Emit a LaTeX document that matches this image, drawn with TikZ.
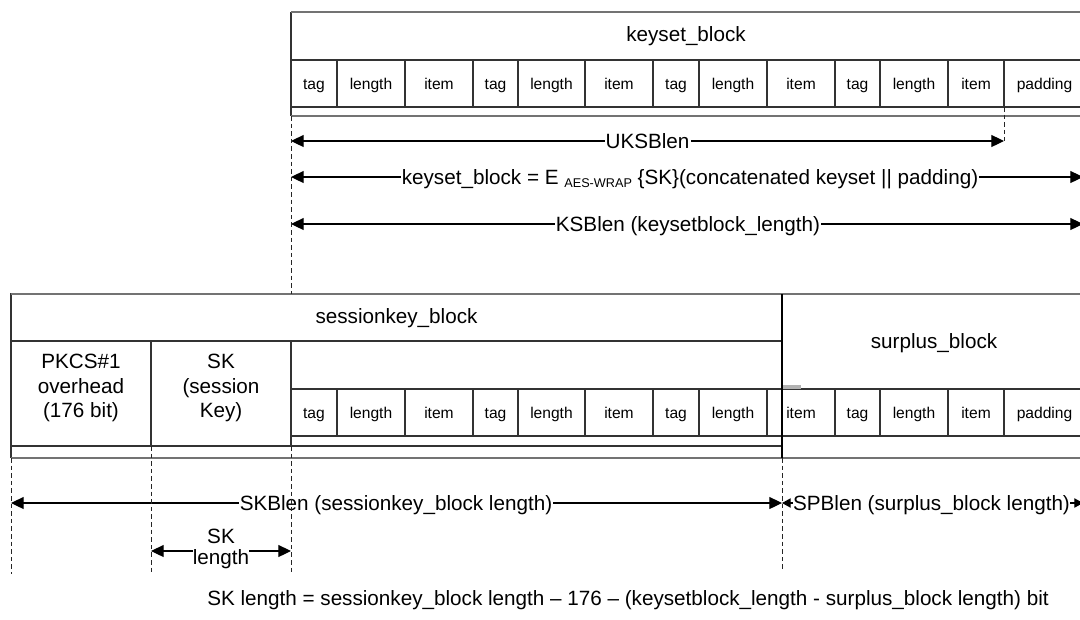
\documentclass[tikz,border=0pt]{standalone}
\usepackage{fontspec}
\setmainfont{Liberation Sans}
\usetikzlibrary{arrows.meta}
\begin{document}
\begin{tikzpicture}[x=0.75pt,y=-0.75pt,
  bigtxt/.style={font=\fontsize{15.5}{18.4}\selectfont},
  celltxt/.style={font=\fontsize{11.7}{14}\selectfont, text height=8.4pt, text depth=0pt, inner sep=0pt},
  thin/.style={draw=black!80, line width=0.8pt},
  outer/.style={draw=black!55, line width=1.5pt},
  sepline/.style={draw=black, line width=1.6pt},
  guide/.style={draw=black!85, line width=0.75pt, dash pattern=on 3.5pt off 2.2pt},
  dim/.style={draw=black, line width=0.8pt, {Triangle[length=9.5pt,width=9pt]}-{Triangle[length=9.5pt,width=9pt]}},
  dimsmall/.style={draw=black, line width=0.8pt, {Triangle[length=6.5pt,width=7pt]}-{Triangle[length=6.5pt,width=7pt]}},
  dimlbl/.style={bigtxt, fill=white, inner sep=0.8pt, text height=11.2pt, text depth=0pt},
  ttl/.style={bigtxt, inner sep=0pt, anchor=base},
  multi/.style={bigtxt, align=center, inner sep=0pt},
]
\useasboundingbox (0,0) rectangle (1080,619);

% ---------------- keyset block (top) ----------------
\draw[thin] (291,60) rectangle (1085,107);
\foreach \x in {337,405,473,518,585,653,699,767,835,880,948,1004}
  \draw[thin] (\x,60) -- (\x,107);
\draw[thin] (291,12) -- (291,116);
\draw[outer] (291,12) -- (1085,12);
\draw[outer] (291,116) -- (1085,116);
\node[ttl] (kbtitle) at (686,41) {keyset\_block};
\foreach \c/\t [count=\i] in {314/tag,371/length,439/item,495.5/tag,551.5/length,619/item,676/tag,733/length,801/item,857.5/tag,914/length,976/item,1044.5/padding}
  \node[celltxt, name=kc\i] at (\c,83.5) {\t};

% ---------------- session key block + surplus (bottom) ----------------
\draw[thin] (291,389) rectangle (1085,436);
\foreach \x in {337,405,473,518,585,653,699,767,835,880,948,1004}
  \draw[thin] (\x,389) -- (\x,436);
\draw[thin] (11,294) rectangle (782,446);
\draw[thin] (11,341) -- (782,341);
\draw[thin] (151,341) -- (151,446);
\draw[thin] (291,341) -- (291,446);
\draw[thin] (11,294) -- (11,458);
\draw[outer] (11,294) -- (1085,294);
\draw[outer] (11,458) -- (1085,458);
\fill[black!30] (782,385) rectangle (801,389);
\draw[sepline] (782,294) -- (782,458);

\node[ttl] (sktitle) at (396.5,323) {sessionkey\_block};
\node[ttl] (sptitle) at (934,348) {surplus\_block};
\node[multi] (pkcs) at (81,388) {PKCS\#1\\overhead\\(176 bit)};
\node[multi] (skcell) at (221,388) {SK\\(session\\Key)};
\foreach \c/\t [count=\i] in {314/tag,371/length,439/item,495.5/tag,551.5/length,619/item,676/tag,733/length,801/item,857.5/tag,914/length,976/item,1044.5/padding}
  \node[celltxt, name=sc\i] at (\c,412.5) {\t};

% ---------------- dimension lines ----------------
\coordinate (uksA) at (291,141);  \coordinate (uksB) at (1004,141);
\coordinate (kbA) at (291,177);   \coordinate (kbB) at (1083,177);
\coordinate (ksbA) at (291,224);  \coordinate (ksbB) at (1083,224);
\coordinate (skbA) at (11,503);   \coordinate (skbB) at (782,503);
\coordinate (spbA) at (782,503);  \coordinate (spbB) at (1083,503);
\coordinate (sklA) at (151,551);  \coordinate (sklB) at (291,551);

\draw[dim] (uksA) -- (uksB);
\node[dimlbl] (ukslbl) at (647.5,141) {UKSBlen};
\draw[dim] (kbA) -- (kbB);
\node[dimlbl] (kblbl) at (690,177) {keyset\_block = E \raisebox{-2pt}{\fontsize{9.5}{10}\selectfont AES-WRAP} \{SK\}(concatenated keyset || padding)};
\draw[dim] (ksbA) -- (ksbB);
\node[dimlbl] (ksblbl) at (688,224) {KSBlen (keysetblock\_length)};
\draw[dim] (skbA) -- (skbB);
\node[dimlbl] (skblbl) at (396,503) {SKBlen (sessionkey\_block length)};
\draw[dimsmall] (spbA) -- (spbB);
\node[dimlbl, inner sep=0.3pt] (spblbl) at (931.5,503) {SPBlen (surplus\_block length)};
\draw[dim] (sklA) -- (sklB);
\node[multi, fill=white, font=\fontsize{15.5}{15.8}\selectfont] (skllbl) at (221,549) {SK\\length};

\node[bigtxt, anchor=base west, inner sep=0pt] (formula) at (207,605)
  {SK length = sessionkey\_block length -- 176 -- (keysetblock\_length - surplus\_block length) bit};

% ---------------- dashed guides ----------------
\coordinate (g1a) at (291,116); \coordinate (g1b) at (291,294);
\coordinate (g2a) at (291,446); \coordinate (g2b) at (291,574);
\coordinate (g3a) at (11,458);  \coordinate (g3b) at (11,574);
\coordinate (g4a) at (151,446); \coordinate (g4b) at (151,572);
\coordinate (g5a) at (782,458); \coordinate (g5b) at (782,571);
\coordinate (g6a) at (1004,107); \coordinate (g6b) at (1004,141);
\draw[guide] (g1a) -- (g1b);
\draw[guide] (g2a) -- (g2b);
\draw[guide] (g3a) -- (g3b);
\draw[guide] (g4a) -- (g4b);
\draw[guide] (g5a) -- (g5b);
\draw[guide] (g6a) -- (g6b);
\end{tikzpicture}
\end{document}
